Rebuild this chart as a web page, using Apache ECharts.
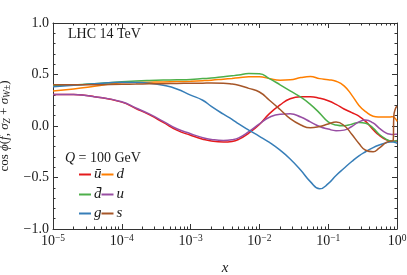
<!DOCTYPE html>
<html><head><meta charset="utf-8">
<script src="https://cdn.jsdelivr.net/npm/echarts@6/dist/echarts.min.js"></script>
<style>html,body{margin:0;padding:0;background:#fff}#c{width:407px;height:275px}</style>
</head><body><div id="c"></div>
<script>
// x grid (momentum fraction)
const xs = [1e-5, 2e-5, 4e-5, 1e-4, 1.6e-4, 2.5e-4, 4e-4, 6.3e-4, 1e-3, 1.5e-3, 2e-3, 3e-3, 4e-3, 5e-3, 7e-3,
  1e-2, 1.4e-2, 2e-2, 2.8e-2, 4e-2, 5.5e-2, 7.5e-2, 0.1, 0.13, 0.17, 0.22, 0.28, 0.35, 0.45, 0.55, 0.7, 0.8, 0.88, 0.9, 0.95, 1];
const ubar = [0.307, 0.305, 0.285, 0.232, 0.17, 0.11, 0.035, -0.04, -0.09, -0.128, -0.146, -0.155, -0.15, -0.13, -0.07,
  0.015, 0.12, 0.205, 0.265, 0.285, 0.285, 0.27, 0.245, 0.21, 0.165, 0.13, 0.095, 0.045, -0.035, -0.09, -0.135, -0.145, -0.148, -0.148, -0.146, -0.145];
const dq = [0.34, 0.36, 0.385, 0.42, 0.423, 0.425, 0.428, 0.431, 0.435, 0.44, 0.445, 0.455, 0.462, 0.468, 0.478,
  0.478, 0.46, 0.445, 0.448, 0.47, 0.48, 0.46, 0.45, 0.435, 0.39, 0.3, 0.2, 0.14, 0.095, 0.088, 0.087, 0.088, 0.09, 0.09, 0.07, 0.045];
const dbar = [0.39, 0.40, 0.41, 0.43, 0.437, 0.442, 0.446, 0.449, 0.452, 0.46, 0.465, 0.478, 0.487, 0.495, 0.51,
  0.508, 0.46, 0.40, 0.34, 0.28, 0.21, 0.125, 0.04, 0.01, 0.002, 0.018, 0.033, 0.027, -0.02, -0.08, -0.13, -0.145, -0.148, -0.148, -0.145, -0.14];
const uq = [0.307, 0.305, 0.285, 0.235, 0.175, 0.117, 0.045, -0.027, -0.075, -0.113, -0.13, -0.14, -0.133, -0.115, -0.055,
  0.02, 0.085, 0.115, 0.118, 0.087, 0.04, -0.005, -0.03, -0.045, -0.04, -0.005, 0.04, 0.058, 0.03, -0.02, -0.07, -0.08, -0.082, -0.082, -0.08, -0.08];
const gl = [0.38, 0.395, 0.41, 0.425, 0.423, 0.415, 0.395, 0.36, 0.30, 0.25, 0.19, 0.115, 0.065, 0.02, -0.04,
  -0.1, -0.16, -0.235, -0.32, -0.43, -0.54, -0.61, -0.56, -0.48, -0.41, -0.345, -0.29, -0.25, -0.21, -0.185, -0.162, -0.155, -0.155, -0.155, -0.16, -0.17];
const sq = [0.40, 0.40, 0.40, 0.405, 0.407, 0.409, 0.411, 0.413, 0.415, 0.416, 0.417, 0.416, 0.408, 0.395, 0.365,
  0.33, 0.25, 0.16, 0.071, 0.01, -0.018, -0.005, 0.02, 0.038, 0.005, -0.08, -0.17, -0.235, -0.25, -0.215, -0.16, -0.147, -0.14, 0.1, 0.17, 0.19];

const seriesNames = ['ū', 'd', 'd̄', 'u', 'g', 's'];
const seriesColors = ['#e41a1c', '#ff7f00', '#4daf4a', '#984ea3', '#377eb8', '#a65628'];
const seriesVals = [ubar, dq, dbar, uq, gl, sq];

const xMajorExps = [-5, -4, -3, -2, -1, 0];
const xMinorLog = [];
for (let n = -5; n < 0; n++) for (let k = 2; k <= 9; k++) xMinorLog.push(n + Math.log10(k));
const yTicks = [-1, -0.5, 0, 0.5, 1];

const FONT = 'Liberation Serif';
const TXT = '#1a1a1a';
const FRAME = '#333';

const chart = echarts.init(document.getElementById('c'), null, {renderer: 'canvas'});

const xLabelFmt = v => {
  const e = Math.round(Math.log10(v));
  return '{b|10}{e|' + (e < 0 ? '−' + (-e) : String(e)) + '}';
};
const xRich = {
  b: {fontFamily: FONT, fontSize: 14, color: TXT},
  e: {fontFamily: FONT, fontSize: 9.5, color: TXT, verticalAlign: 'top', padding: [0, 0, 7, 0]}
};

const baseX = (pos, labels) => ({
  type: 'log', logBase: 10, min: 1e-5, max: 1, position: pos,
  axisLine: {show: true, onZero: false, lineStyle: {color: FRAME, width: 1}},
  axisTick: {show: true, inside: true, length: 5, lineStyle: {color: FRAME}},
  axisLabel: {show: labels, formatter: xLabelFmt, rich: xRich, margin: 4},
  splitLine: {show: false},
  name: labels ? 'x' : '', nameLocation: 'middle', nameGap: 32,
  nameTextStyle: {fontFamily: FONT, fontStyle: 'italic', fontSize: 15, color: TXT}
});
const minorX = pos => ({
  type: 'value', min: -5, max: 0, position: pos,
  axisLine: {show: false, onZero: false}, axisLabel: {show: false}, splitLine: {show: false},
  axisTick: {show: true, inside: true, length: 2.5, customValues: xMinorLog, lineStyle: {color: FRAME}}
});
const baseY = (pos, labels) => ({
  type: 'value', min: -1, max: 1, interval: 0.5, position: pos,
  axisLine: {show: true, onZero: false, lineStyle: {color: FRAME, width: 1}},
  axisTick: {show: true, inside: true, length: 5, lineStyle: {color: FRAME}},
  minorTick: {show: true, splitNumber: 5, length: 2.5, lineStyle: {color: FRAME}},
  axisLabel: {show: labels, margin: 4, fontFamily: FONT, fontSize: 14, color: TXT,
    formatter: v => v.toFixed(1).replace('-', '−')},
  splitLine: {show: false},
  name: labels ? '{n|cos }{i|ϕ}{n|(}{i|f}{n|, }{i|σ}{s|Z}{n| + }{i|σ}{s|W±}{n|)}' : '',
  nameLocation: 'middle', nameGap: 37,
  nameTextStyle: {
    rich: {
      n: {fontFamily: FONT, fontSize: 13, color: TXT},
      i: {fontFamily: FONT, fontSize: 13, fontStyle: 'italic', color: TXT},
      s: {fontFamily: FONT, fontSize: 9.5, fontStyle: 'italic', color: TXT, verticalAlign: 'bottom', padding: [6, 0, 0, 0]}
    }
  }
});

const legendRow = (items, top) => ({
  data: items, left: 79, top: top, orient: 'horizontal', padding: 0,
  itemWidth: 12, itemHeight: 2, itemGap: 0, icon: 'rect', selectedMode: false,
  textStyle: {fontFamily: FONT, fontStyle: 'italic', fontSize: 15, color: TXT, padding: [0, 0, 0, -2]}
});

chart.setOption({
  animation: false,
  backgroundColor: '#fff',
  grid: {left: 53, right: 10, top: 23, bottom: 46, containLabel: false, outerBoundsMode: 'none'},
  xAxis: [baseX('bottom', true), baseX('top', false), minorX('bottom'), minorX('top')],
  yAxis: [baseY('left', true), baseY('right', false)],
  legend: [
    legendRow([seriesNames[0], seriesNames[1]], 167),
    legendRow([seriesNames[2], seriesNames[3]], 187),
    legendRow([seriesNames[4], seriesNames[5]], 206)
  ],
  graphic: [
    {type: 'text', left: 68, top: 27, style: {text: 'LHC 14 TeV', font: '14px "' + FONT + '"', fill: TXT}},
    {type: 'text', left: 65, top: 151, style: {text: '{i|Q} = 100 GeV', font: '14px "' + FONT + '"', fill: TXT,
      rich: {i: {fontFamily: FONT, fontSize: 14, fontStyle: 'italic', fill: TXT}}}}
  ],
  series: seriesNames.map((nm, i) => ({
    name: nm, type: 'line', xAxisIndex: 0, yAxisIndex: 0,
    data: xs.map((x, j) => [x, seriesVals[i][j]]),
    smooth: 0.5, showSymbol: false, symbol: 'none',
    lineStyle: {color: seriesColors[i], width: 1.5},
    itemStyle: {color: seriesColors[i]}
  }))
});
</script></body></html>
